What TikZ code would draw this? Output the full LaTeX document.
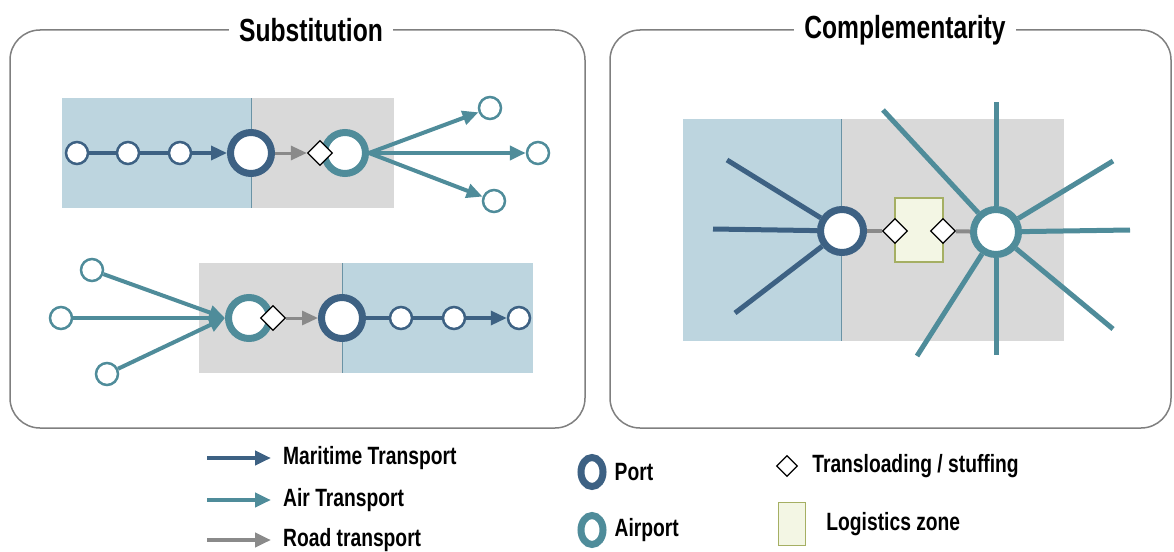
\documentclass[tikz,border=0pt]{standalone}
\usepackage{fontspec}
\setmainfont{Liberation Sans}[FakeStretch=0.77]
\usetikzlibrary{shapes.geometric,arrows.meta,positioning,calc}
\definecolor{seablue}{HTML}{3D6183}
\definecolor{airteal}{HTML}{4F8C9A}
\definecolor{roadgray}{HTML}{8A8A8A}
\definecolor{zoneblue}{HTML}{BDD5DF}
\definecolor{zonegray}{HTML}{D9D9D9}
\definecolor{framegray}{HTML}{7F7F7F}
\definecolor{logifill}{HTML}{F3F6E4}
\definecolor{logiedge}{HTML}{A5AF63}
\definecolor{splitline}{HTML}{6A93A5}
\tikzstyle{stop}=[circle, draw, line width=2.5pt, fill=white, minimum size=22pt, inner sep=0pt]
\tikzstyle{port}=[circle, draw=seablue, line width=7pt, fill=white, minimum size=41pt, inner sep=0pt]
\tikzstyle{airport}=[circle, draw=airteal, line width=7pt, fill=white, minimum size=41pt, inner sep=0pt]
\tikzstyle{tranship}=[diamond, draw=black, line width=1.3pt, fill=white, minimum size=25pt, inner sep=0pt]
\tikzstyle{logzone}=[rectangle, draw=logiedge, line width=1.5pt, fill=logifill]
\tikzstyle{sea}=[draw=seablue, line width=3.5pt]
\tikzstyle{air}=[draw=airteal, line width=4pt]
\tikzstyle{road}=[draw=roadgray, line width=3pt]
\tikzstyle{arrowhead}=[-{Triangle[length=16pt,width=14pt]}]
\tikzstyle{frame}=[draw=framegray, line width=1.5pt, rounded corners=30pt]
\tikzstyle{title}=[fill=white, inner xsep=10pt, font=\bfseries\fontsize{32}{32}\selectfont]
\tikzstyle{legtext}=[inner sep=0pt, font=\bfseries\fontsize{25}{25}\selectfont]
\tikzstyle{split}=[draw=splitline, line width=1pt]

\begin{document}
\begin{tikzpicture}[x=1pt,y=-1pt]
\useasboundingbox (0,0) rectangle (1174,551);

% frames
\draw[frame] (10,30) rectangle (585,428);
\draw[frame] (610,30) rectangle (1171,428);
\node (subst) [title] at (311,30) {Substitution};
\node (compl) [title] at (905,30) {Complementarity};

% substitution, top
\fill[zoneblue] (62,98) rectangle (251,208);
\fill[zonegray] (251,98) rectangle (394,208);
\draw[split] (251,98) -- (251,208);
\node (s1) [stop, draw=seablue] at (77,153) {};
\node (s2) [stop, draw=seablue] at (128,153) {};
\node (s3) [stop, draw=seablue] at (180,153) {};
\node (p1) [port] at (251,153) {};
\node (a1) [airport] at (345,153) {};
\node (t1) [tranship] at (320,153) {};
\node (d1) [stop, draw=airteal] at (490,108) {};
\node (d2) [stop, draw=airteal] at (538,153) {};
\node (d3) [stop, draw=airteal] at (494,201) {};
\draw[sea] (s1) -- (s2);
\draw[sea] (s2) -- (s3);
\draw[sea,arrowhead] (s3) -- (p1);
\draw[road,arrowhead] (p1) -- (t1);
\draw[air,arrowhead] (a1.east) -- (d1);
\draw[air,arrowhead] (a1.east) -- (d2);
\draw[air,arrowhead] (a1.east) -- (d3);

% substitution, bottom
\fill[zonegray] (199,263) rectangle (342,373);
\fill[zoneblue] (342,263) rectangle (533,373);
\draw[split] (342,263) -- (342,373);
\node (o1) [stop, draw=airteal] at (92,270) {};
\node (o2) [stop, draw=airteal] at (61,318) {};
\node (o3) [stop, draw=airteal] at (107,374) {};
\node (a2) [airport] at (249,318) {};
\node (t2) [tranship] at (273,318) {};
\node (p2) [port] at (342,318) {};
\node (s4) [stop, draw=seablue] at (401,318) {};
\node (s5) [stop, draw=seablue] at (454,318) {};
\node (s6) [stop, draw=seablue] at (519,318) {};
\draw[air,arrowhead] (o1) -- (a2.west);
\draw[air,arrowhead] (o2) -- (a2.west);
\draw[air,arrowhead] (o3) -- (a2.west);
\draw[road,arrowhead] (t2) -- (p2);
\draw[sea] (p2) -- (s4);
\draw[sea] (s4) -- (s5);
\draw[sea,arrowhead] (s5) -- (s6);

% complementarity
\fill[zoneblue] (683,119) rectangle (841,341);
\fill[zonegray] (841,119) rectangle (1064,341);
\draw[split] (841,119) -- (841,341);
\node (lz) [logzone, minimum width=48pt, minimum height=64pt] at (919,230) {};
\node (p3) [port, minimum size=43pt] at (842,231) {};
\node (a3) [airport, minimum size=45pt] at (996,232) {};
\node (t3) [tranship] at (895,231) {};
\node (t4) [tranship] at (943,231) {};
\draw[road, line width=4pt] (p3) -- (t3);
\draw[road, line width=4pt] (t4) -- (a3);
\foreach \x/\y [count=\i] in {727/160, 713/229, 735/313}{
  \coordinate (pe\i) at (\x,\y);
  \draw[sea, line width=5pt] (p3) -- (pe\i);
}
\foreach \x/\y [count=\i] in {883/110, 996/102, 1113/161, 1130/230, 1113/329, 996/355, 917/356}{
  \coordinate (ae\i) at (\x,\y);
  \draw[air, line width=5pt] (a3) -- (ae\i);
}

% legend
\coordinate (m0) at (207,458);
\coordinate (m1) at (271,458);
\coordinate (r0) at (207,500);
\coordinate (r1) at (271,500);
\coordinate (g0) at (207,540);
\coordinate (g1) at (271,540);
\draw[sea, line width=4pt, arrowhead] (m0) -- (m1);
\draw[air, line width=4pt, arrowhead] (r0) -- (r1);
\draw[road, line width=4pt, arrowhead] (g0) -- (g1);
\node (mtext) [legtext, right=12pt of m1] {Maritime Transport};
\node (atext) [legtext, right=12pt of r1] {Air Transport};
\node (rtext) [legtext, right=12pt of g1] {Road transport};

\node (lport) [port, ellipse, minimum width=22pt, minimum height=29pt, line width=7pt] at (592,472) {};
\node (lair) [airport, ellipse, minimum width=22pt, minimum height=29pt, line width=7pt] at (592,530) {};
\node (ptext) [legtext, right=8pt of lport] {Port};
\node (aptext) [legtext, right=8pt of lair] {Airport};

\node (ltrans) [tranship, minimum size=21pt, line width=1.2pt] at (787,466) {};
\node (lzone) [logzone, minimum width=27pt, minimum height=43pt] at (792,524) {};
\node (ttext) [legtext, right=14pt of ltrans] {Transloading / stuffing};
\node (ztext) [legtext, right=20pt of lzone] {Logistics zone};
\end{tikzpicture}
\end{document}
